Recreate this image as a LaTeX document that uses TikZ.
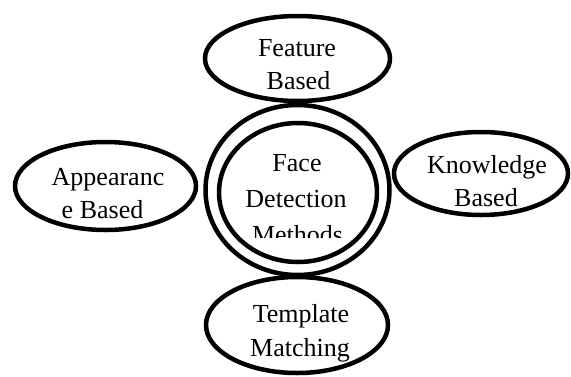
\documentclass[tikz,border=0pt]{standalone}
\usepackage{fontspec}
\setmainfont{Liberation Serif}
\usetikzlibrary{shapes.geometric}
\begin{document}
\begin{tikzpicture}[x=1pt,y=-1pt,
  oval/.style={ellipse,draw=black,line width=4.5pt,inner sep=0pt,outer sep=0pt},
  lbl/.style={anchor=base,inner sep=0pt,font=\fontsize{26}{30}\selectfont}]
\useasboundingbox (0,0) rectangle (571,376);
% shapes
\node[oval,minimum width=185pt,minimum height=85pt] (feat) at (297.5,58.5) {};
\node[oval,minimum width=181pt,minimum height=88pt] (appr) at (105.5,186) {};
\node[oval,minimum width=184pt,minimum height=170pt] (outer) at (297.5,190) {};
\node[oval,minimum width=158pt,minimum height=139pt] (inner) at (298,192.5) {};
\node[oval,minimum width=174pt,minimum height=83pt] (know) at (481,173.5) {};
\node[oval,minimum width=182pt,minimum height=96pt] (tmpl) at (297,325) {};
% texts
\node[lbl] (feat1) at (297,56) {Feature};
\node[lbl] (feat2) at (298.5,89) {Based};
\node[lbl] (appr1) at (108,185) {Appearanc};
\node[lbl] (appr2) at (102.5,218) {e Based};
\node[lbl] (face1) at (297,171) {Face};
\node[lbl] (face2) at (296,207) {Detection};
\begin{scope}
\clip (200,210) rectangle (400,237);
\node[lbl] (face3) at (297.5,243) {Methods};
\end{scope}
\node[lbl] (know1) at (487,173) {Knowledge};
\node[lbl] (know2) at (486,206) {Based};
\node[lbl] (tmpl1) at (301,322) {Template};
\node[lbl] (tmpl2) at (300,356) {Matching};
\end{tikzpicture}
\end{document}
